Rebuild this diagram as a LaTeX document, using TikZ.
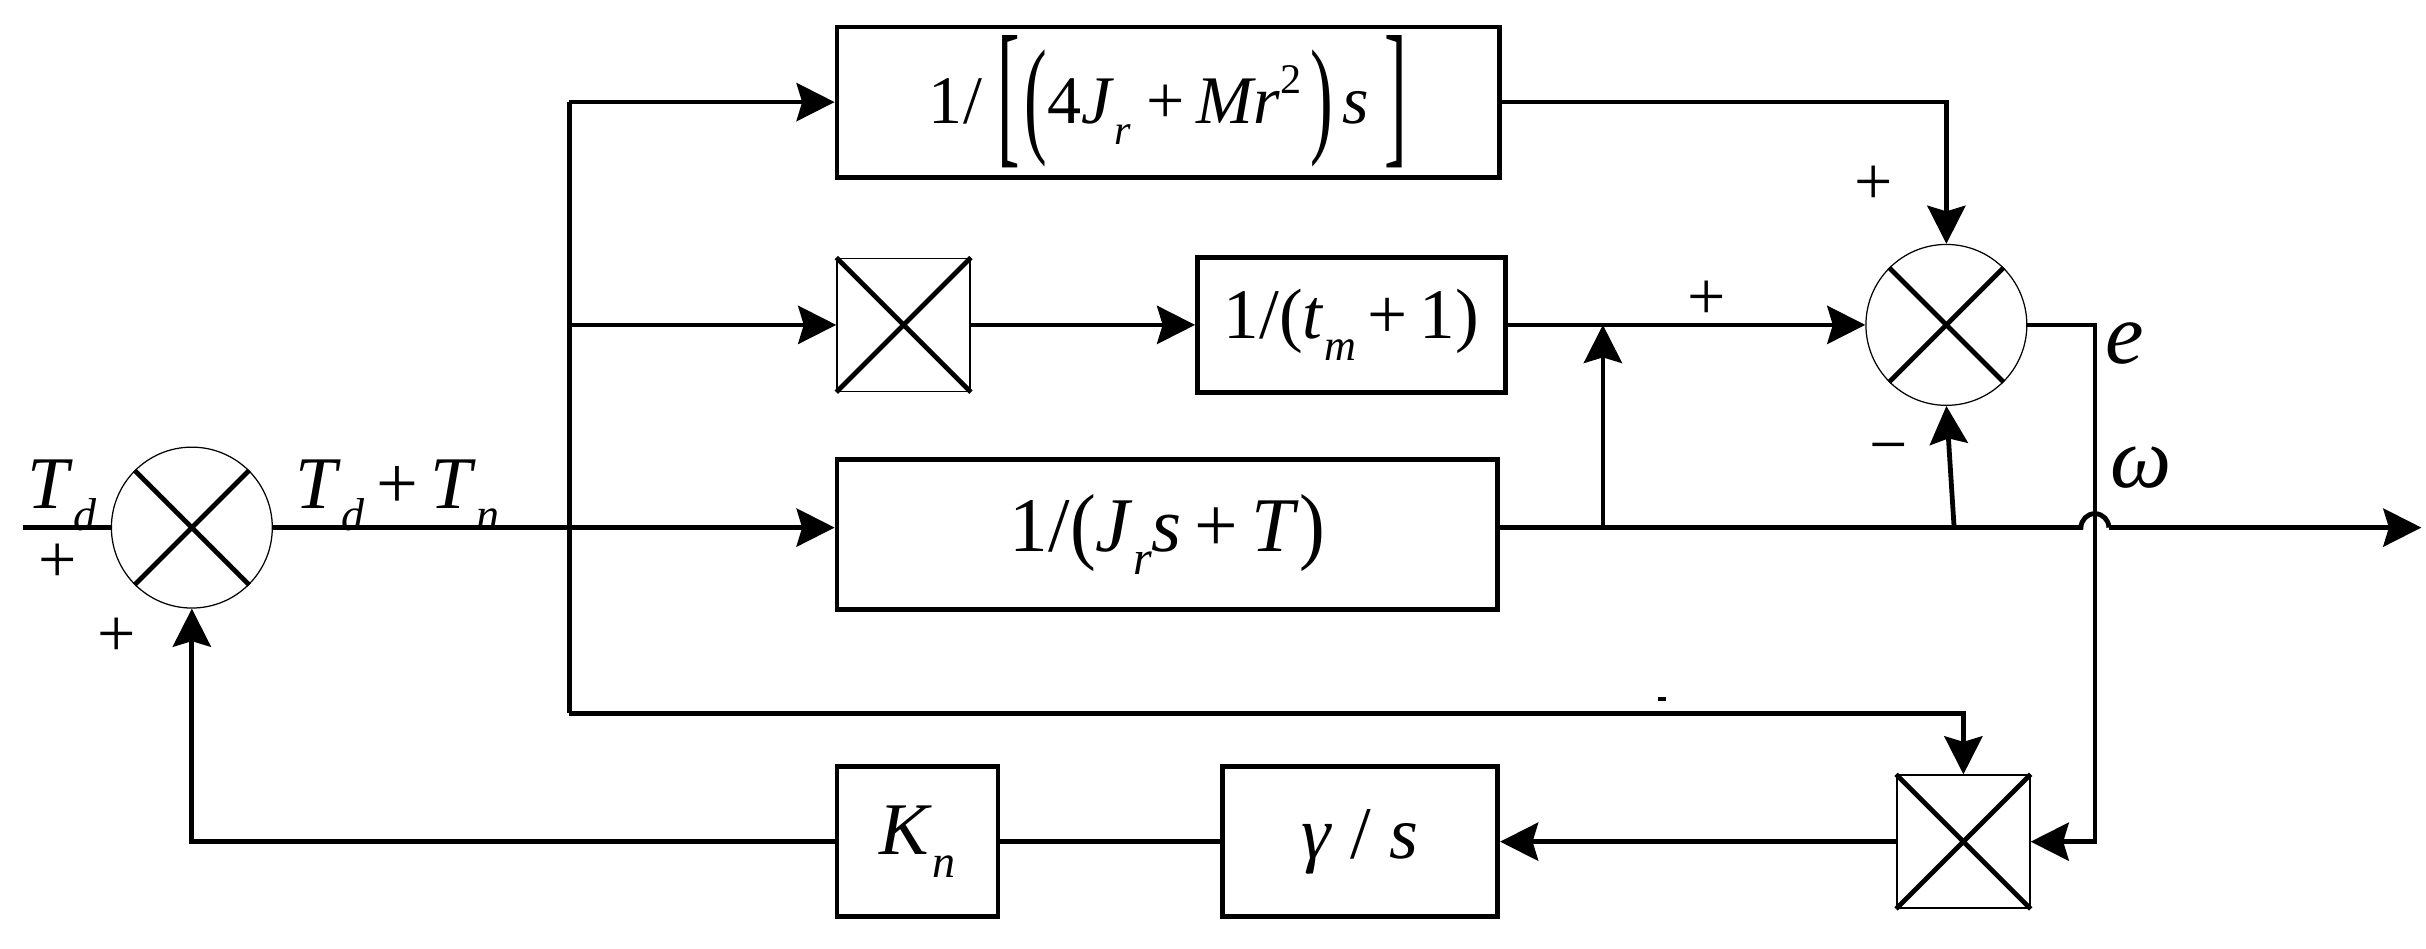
\documentclass[tikz,border=0pt]{standalone}
\usepackage{fontspec}
\setmainfont{Liberation Serif}
\usepackage{graphicx}
\usetikzlibrary{arrows.meta}
\newcommand{\sbs}[1]{\raisebox{-0.3em}{\scalebox{0.62}{\itshape #1}}}
\newcommand{\sps}[1]{\raisebox{0.45em}{\scalebox{0.62}{#1}}}
\newcommand{\tallch}[3]{\raisebox{#2}{\scalebox{1}[#1]{#3}}}
\tikzset{
  sig/.style={line width=1.55pt},
  arr/.style={sig,-{Stealth[length=12.3pt,width=12.3pt,inset=1.8pt]}},
  box/.style={draw,line width=1.55pt,inner sep=0pt},
  sumc/.style={circle,draw,line width=0.4pt,minimum size=52pt,inner sep=0pt},
  mult/.style={draw,line width=0.5pt,minimum size=43pt,inner sep=0pt},
  lbl/.style={inner sep=0pt,font=\fontsize{24}{28}\selectfont},
  pm/.style={inner sep=0pt,font=\fontsize{22}{26}\selectfont},
}
\begin{document}
\begin{tikzpicture}[x=0.5pt,y=-0.5pt]
\useasboundingbox (0,0) rectangle (1568,613);
% nodes
\node[box,minimum width=214pt,minimum height=48.5pt,font=\fontsize{22}{26}\selectfont] (b1) at (755,66)
  {1/\hspace{5pt}\tallch{2.35}{-0.34em}{[}\hspace{1.5pt}\tallch{1.9}{-0.225em}{(}4\textit{J}\sbs{r}\hspace{5pt}+\hspace{4pt}\textit{Mr}\sps{2}\hspace{3pt}\tallch{1.9}{-0.225em}{)}\hspace{3pt}\textit{s}\hspace{5pt}\tallch{2.35}{-0.34em}{]}};
\node[mult] (m1) at (584,210) {};
\node[box,minimum width=99.5pt,minimum height=43.5pt,font=\fontsize{23}{27}\selectfont] (b2) at (873.5,210)
  {1/(\textit{t}\sbs{m}\,+\,1)};
\node[sumc] (s2) at (1258,210) {};
\node[box,minimum width=213.5pt,minimum height=48.5pt,font=\fontsize{25}{29}\selectfont] (b3) at (754.5,345.5)
  {1/\tallch{1.1}{-0.025em}{(}\textit{J}\sbs{r}\textit{s}\,+\,\textit{T}\tallch{1.1}{-0.025em}{)}};
\node[sumc] (s1) at (124,341) {};
\node[mult] (m2) at (1269,544) {};
\node[box,minimum width=89pt,minimum height=48.5pt,font=\fontsize{24}{28}\selectfont] (bg) at (879,544)
  {\textit{γ} / \textit{s}};
\node[box,minimum width=52pt,minimum height=48.5pt,font=\fontsize{24}{28}\selectfont] (bk) at (593,544)
  {\textit{K}\sbs{n}};
% crosses
\draw[sig] (s1.45) -- (s1.225) (s1.135) -- (s1.315);
\draw[sig] (s2.45) -- (s2.225) (s2.135) -- (s2.315);
\draw[sig] (m1.north west) -- (m1.south east) (m1.north east) -- (m1.south west);
\draw[sig] (m2.north west) -- (m2.south east) (m2.north east) -- (m2.south west);
% coordinates
\coordinate (in) at (15,341);
\coordinate (j1) at (368,341);
\coordinate (jt) at (368,66);
\coordinate (jm) at (368,210);
\coordinate (jb) at (368,461);
\coordinate (k1) at (1036,341);
\coordinate (k1t) at (1036,210);
\coordinate (k2) at (1263,341);
\coordinate (hl) at (1345,341);
\coordinate (out) at (1565,341);
\coordinate (ec) at (1354,210);
\coordinate (ed) at (1354,544);
% connectors
\draw[sig] (in) -- (s1.west);
\draw[sig] (s1.east) -- (j1);
\draw[arr] (j1) -- (j1 -| b3.west);
\draw[sig] (jt) -- (jb);
\draw[arr] (jt) -- (b1.west);
\draw[arr] (jm) -- (m1.west);
\draw[arr] (jb) -| (m2.north);
\draw[arr] (m1.east) -- (b2.west);
\draw[arr] (b2.east) -- (s2.west);
\draw[arr] (b1.east) -| (s2.north);
\draw[sig] (hl -| b3.east) -- (hl) arc[start angle=180,end angle=0,radius=4.5pt];
\draw[arr] ([xshift=9pt]hl) -- (out);
\draw[arr] (k1) -- (k1t);
\draw[arr] (k2) -- (s2.south);
\draw[arr] (s2.east) -- (ec) -- (ed) -- (m2.east);
\draw[arr] (m2.west) -- (bg.east);
\draw[sig] (bg.west) -- (bk.east);
\draw[arr] (bk.west) -| (s1.south);
\draw[line width=1.3pt] (1071.5,452) -- (1076.5,452);
% labels
\node[lbl] (lTd) at (40,320) {\textit{T}\sbs{d}};
\node[lbl] (lTdn) at (257,320) {\textit{T}\sbs{d}\,+\,\textit{T}\sbs{n}};
\node[pm] (p1) at (37.5,364) {+};
\node[pm] (p2) at (75.5,412) {+};
\node[pm] (p3) at (1103,194) {+};
\node[pm] (p4) at (1211,120) {+};
\node[pm] (p5) at (1221,294) {−};
\node[lbl,font=\fontsize{28}{32}\selectfont] (le) at (1373,222) {\textit{e}};
\node[lbl,font=\fontsize{28}{32}\selectfont] (lw) at (1384,302) {\textit{ω}};
\end{tikzpicture}
\end{document}
